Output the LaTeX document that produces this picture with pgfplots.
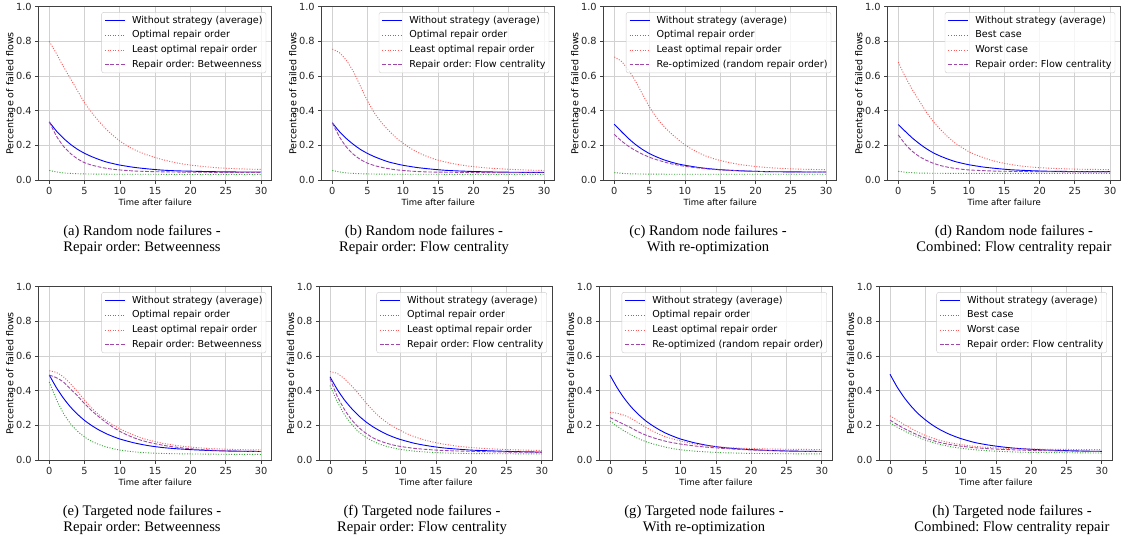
\documentclass[border=0pt]{standalone}
\usepackage{fontspec}
\setmainfont{DejaVu Sans}
\newfontfamily\capfont{Liberation Serif}
\usepackage{pgfplots}
\pgfplotsset{compat=1.18}
\frenchspacing

\definecolor{cblue}{rgb}{0,0,1}
\definecolor{cgreen}{rgb}{0.22,0.64,0.22}
\definecolor{cred}{rgb}{1,0.35,0.35}
\definecolor{cpurple}{rgb}{0.62,0.28,0.66}

\pgfplotsset{
  panel/.style={
    scale only axis, width=233pt, height=173.3pt, anchor=south west,
    xmin=-1.5, xmax=31.5, ymin=0, ymax=1,
    xtick={0,5,...,30}, ytick={0,0.2,0.4,0.6,0.8,1.0},
    yticklabel style={/pgf/number format/fixed,/pgf/number format/fixed zerofill,/pgf/number format/precision=1},
    /pgf/number format/assume math mode=true,
    tick label style={font=\fontsize{9.8}{11}\selectfont, text=black!85},
    tick align=outside, major tick length=3.5pt,
    tick style={black!75, line width=0.7pt},
    axis line style={black!75, line width=0.8pt},
    xtick pos=bottom, ytick pos=left,
    grid=major, major grid style={black!18, line width=0.8pt},
    xlabel={Time after failure}, ylabel={Percentage of failed flows},
    xlabel style={at={(axis description cs:0.5,-0.127)}, anchor=center, font=\fontsize{8.5}{10}\selectfont},
    ylabel style={at={(axis description cs:-0.12,0.5)}, anchor=center, font=\fontsize{9.5}{11}\selectfont},
    legend cell align=left,
    legend image code/.code={\draw[##1] (0pt,0pt) -- (20pt,0pt);},
    legend style={at={(axis description cs:1,1)}, anchor=north east, xshift=-5.5pt, yshift=-5.5pt,
      draw=black!20, rounded corners=2pt, fill=white, fill opacity=0.8, text opacity=1, draw opacity=1,
      inner sep=3pt, row sep=4.4pt, font=\fontsize{9.6}{11}\selectfont,
      nodes={inner sep=0.5pt, text height=7.3pt, text depth=2pt},
      /tikz/every odd column/.append style={column sep=6pt}},
  },
  sblue/.style={color=cblue, line width=0.9pt, solid, smooth, tension=0.4},
  sgreen/.style={color=cgreen, line width=0.9pt, dash pattern=on 1pt off 1.6pt, smooth, tension=0.4},
  sred/.style={color=cred, line width=0.9pt, dash pattern=on 1pt off 1.6pt, smooth, tension=0.4},
  spurple/.style={color=cpurple, line width=0.9pt, dash pattern=on 3.7pt off 1.6pt, smooth, tension=0.4},
}

\begin{document}
\begin{tikzpicture}
\useasboundingbox (0pt,0pt) rectangle (1138pt,-543pt);

% (a)
\begin{axis}[panel, at={(38.7pt,-180pt)}]
\addplot[sblue] coordinates {(0,0.335)(1,0.283)(2,0.241)(3,0.206)(4,0.177)(5,0.154)(6,0.135)(7,0.119)(8,0.105)(9,0.095)(10,0.086)(12,0.073)(14,0.064)(16,0.057)(18,0.053)(20,0.051)(22,0.049)(25,0.047)(28,0.046)(30,0.046)};
\addlegendentry{Without strategy (average)}
\addplot[sgreen] coordinates {(0,0.055)(1,0.047)(2,0.041)(3,0.038)(4,0.036)(5,0.035)(7,0.034)(10,0.033)(15,0.033)(20,0.032)(30,0.032)};
\addlegendentry{Optimal repair order}
\addplot[sred] coordinates {(0,0.80)(1,0.73)(2,0.655)(3,0.585)(4,0.515)(5,0.445)(6,0.39)(7,0.34)(8,0.295)(9,0.258)(10,0.225)(11,0.198)(12,0.176)(13,0.158)(14,0.143)(15,0.13)(16,0.118)(17,0.108)(18,0.099)(19,0.092)(20,0.086)(22,0.077)(24,0.07)(26,0.066)(28,0.063)(30,0.061)};
\addlegendentry{Least optimal repair order}
\addplot[spurple] coordinates {(0,0.335)(1,0.254)(2,0.195)(3,0.153)(4,0.122)(5,0.100)(6,0.086)(7,0.076)(8,0.068)(9,0.062)(10,0.058)(12,0.052)(14,0.049)(16,0.047)(18,0.046)(20,0.045)(25,0.044)(30,0.043)};
\addlegendentry{Repair order: Betweenness}
\end{axis}

% (b)
\begin{axis}[panel, at={(321.7pt,-180pt)}]
\addplot[sblue] coordinates {(0,0.33)(1,0.28)(2,0.239)(3,0.205)(4,0.176)(5,0.153)(6,0.134)(7,0.118)(8,0.104)(9,0.094)(10,0.085)(12,0.072)(14,0.063)(16,0.056)(18,0.052)(20,0.049)(22,0.047)(25,0.045)(28,0.044)(30,0.044)};
\addlegendentry{Without strategy (average)}
\addplot[sgreen] coordinates {(0,0.055)(1,0.047)(2,0.041)(3,0.038)(4,0.036)(5,0.035)(7,0.034)(10,0.033)(15,0.033)(20,0.032)(30,0.032)};
\addlegendentry{Optimal repair order}
\addplot[sred] coordinates {(0,0.755)(1,0.735)(2,0.69)(3,0.625)(4,0.54)(5,0.455)(6,0.385)(7,0.33)(8,0.285)(9,0.245)(10,0.213)(11,0.185)(12,0.162)(13,0.143)(14,0.127)(15,0.114)(16,0.104)(17,0.095)(18,0.088)(19,0.082)(20,0.077)(22,0.069)(24,0.064)(26,0.06)(28,0.057)(30,0.055)};
\addlegendentry{Least optimal repair order}
\addplot[spurple] coordinates {(0,0.33)(1,0.25)(2,0.19)(3,0.148)(4,0.118)(5,0.097)(6,0.083)(7,0.073)(8,0.065)(9,0.059)(10,0.055)(12,0.049)(14,0.046)(16,0.045)(18,0.044)(20,0.043)(25,0.042)(30,0.042)};
\addlegendentry{Repair order: Flow centrality}
\end{axis}

% (c)
\begin{axis}[panel, at={(603.7pt,-180pt)}]
\addplot[sblue] coordinates {(0,0.322)(1,0.28)(2,0.24)(3,0.205)(4,0.176)(5,0.152)(6,0.133)(7,0.117)(8,0.104)(9,0.093)(10,0.085)(12,0.072)(14,0.063)(16,0.057)(18,0.053)(20,0.05)(22,0.048)(25,0.047)(28,0.046)(30,0.046)};
\addlegendentry{Without strategy (average)}
\addplot[sgreen] coordinates {(0,0.043)(1,0.039)(2,0.036)(3,0.035)(5,0.034)(10,0.033)(20,0.033)(30,0.033)};
\addlegendentry{Optimal repair order}
\addplot[sred] coordinates {(0,0.71)(1,0.685)(2,0.635)(3,0.57)(4,0.495)(5,0.42)(6,0.36)(7,0.31)(8,0.27)(9,0.235)(10,0.203)(11,0.178)(12,0.156)(13,0.138)(14,0.124)(15,0.113)(16,0.103)(17,0.095)(18,0.088)(19,0.083)(20,0.078)(22,0.071)(24,0.066)(26,0.063)(28,0.061)(30,0.06)};
\addlegendentry{Least optimal repair order}
\addplot[spurple] coordinates {(0,0.263)(1,0.226)(2,0.195)(3,0.17)(4,0.149)(5,0.131)(6,0.117)(7,0.105)(8,0.094)(9,0.086)(10,0.079)(12,0.069)(14,0.061)(16,0.056)(18,0.052)(20,0.05)(22,0.048)(25,0.047)(28,0.046)(30,0.046)};
\addlegendentry{Re-optimized (random repair order)}
\end{axis}

% (d)
\begin{axis}[panel, at={(887.7pt,-180pt)}]
\addplot[sblue] coordinates {(0,0.32)(1,0.28)(2,0.242)(3,0.209)(4,0.18)(5,0.156)(6,0.137)(7,0.121)(8,0.107)(9,0.097)(10,0.088)(12,0.075)(14,0.066)(16,0.059)(18,0.055)(20,0.052)(22,0.05)(25,0.049)(28,0.048)(30,0.048)};
\addlegendentry{Without strategy (average)}
\addplot[sgreen] coordinates {(0,0.05)(1,0.045)(2,0.042)(3,0.04)(5,0.039)(10,0.038)(20,0.038)(30,0.038)};
\addlegendentry{Best case}
\addplot[sred] coordinates {(0,0.68)(1,0.595)(2,0.52)(3,0.455)(4,0.39)(5,0.335)(6,0.29)(7,0.25)(8,0.215)(9,0.188)(10,0.163)(11,0.145)(12,0.13)(13,0.116)(14,0.105)(15,0.096)(16,0.089)(17,0.083)(18,0.078)(19,0.074)(20,0.071)(22,0.067)(24,0.064)(26,0.062)(28,0.061)(30,0.06)};
\addlegendentry{Worst case}
\addplot[spurple] coordinates {(0,0.26)(1,0.206)(2,0.165)(3,0.135)(4,0.113)(5,0.096)(6,0.083)(7,0.074)(8,0.067)(9,0.062)(10,0.058)(12,0.054)(14,0.051)(16,0.05)(18,0.049)(20,0.048)(25,0.047)(30,0.047)};
\addlegendentry{Repair order: Flow centrality}
\end{axis}

% (e)
\begin{axis}[panel, at={(38.7pt,-460pt)}]
\addplot[sblue] coordinates {(0,0.49)(1,0.418)(2,0.357)(3,0.306)(4,0.264)(5,0.228)(6,0.199)(7,0.174)(8,0.153)(9,0.136)(10,0.121)(12,0.099)(14,0.083)(16,0.072)(18,0.065)(20,0.06)(22,0.056)(25,0.052)(28,0.05)(30,0.049)};
\addlegendentry{Without strategy (average)}
\addplot[sgreen] coordinates {(0,0.45)(1,0.35)(2,0.27)(3,0.21)(4,0.166)(5,0.133)(6,0.108)(7,0.09)(8,0.076)(9,0.066)(10,0.057)(12,0.047)(14,0.041)(16,0.038)(18,0.036)(20,0.035)(25,0.033)(30,0.032)};
\addlegendentry{Optimal repair order}
\addplot[sred] coordinates {(0,0.515)(1,0.505)(2,0.48)(3,0.44)(4,0.395)(5,0.345)(6,0.30)(7,0.262)(8,0.23)(9,0.203)(10,0.18)(11,0.16)(12,0.143)(13,0.128)(14,0.116)(15,0.106)(16,0.097)(17,0.09)(18,0.084)(19,0.079)(20,0.075)(22,0.068)(24,0.064)(26,0.061)(28,0.059)(30,0.058)};
\addlegendentry{Least optimal repair order}
\addplot[spurple] coordinates {(0,0.49)(1,0.475)(2,0.45)(3,0.41)(4,0.37)(5,0.325)(6,0.285)(7,0.25)(8,0.218)(9,0.19)(10,0.165)(11,0.145)(12,0.128)(13,0.114)(14,0.103)(15,0.094)(16,0.086)(17,0.079)(18,0.074)(19,0.069)(20,0.065)(22,0.059)(24,0.055)(26,0.052)(28,0.05)(30,0.049)};
\addlegendentry{Repair order: Betweenness}
\end{axis}

% (f)
\begin{axis}[panel, at={(319.4pt,-460pt)}]
\addplot[sblue] coordinates {(0,0.48)(1,0.409)(2,0.349)(3,0.3)(4,0.258)(5,0.223)(6,0.194)(7,0.17)(8,0.149)(9,0.132)(10,0.118)(12,0.096)(14,0.081)(16,0.07)(18,0.063)(20,0.057)(22,0.054)(25,0.05)(28,0.047)(30,0.046)};
\addlegendentry{Without strategy (average)}
\addplot[sgreen] coordinates {(0,0.43)(1,0.34)(2,0.265)(3,0.21)(4,0.165)(5,0.134)(6,0.11)(7,0.092)(8,0.079)(9,0.069)(10,0.061)(12,0.051)(14,0.045)(16,0.041)(18,0.039)(20,0.037)(25,0.036)(30,0.035)};
\addlegendentry{Optimal repair order}
\addplot[sred] coordinates {(0,0.51)(1,0.50)(2,0.47)(3,0.43)(4,0.385)(5,0.335)(6,0.29)(7,0.25)(8,0.218)(9,0.192)(10,0.17)(11,0.15)(12,0.134)(13,0.12)(14,0.109)(15,0.1)(16,0.092)(17,0.086)(18,0.08)(19,0.076)(20,0.072)(22,0.066)(24,0.062)(26,0.059)(28,0.057)(30,0.055)};
\addlegendentry{Least optimal repair order}
\addplot[spurple] coordinates {(0,0.47)(1,0.37)(2,0.295)(3,0.235)(4,0.19)(5,0.157)(6,0.13)(7,0.111)(8,0.097)(9,0.086)(10,0.078)(12,0.067)(14,0.06)(16,0.055)(18,0.052)(20,0.05)(22,0.048)(25,0.046)(30,0.044)};
\addlegendentry{Repair order: Flow centrality}
\end{axis}

% (g)
\begin{axis}[panel, at={(599.4pt,-460pt)}]
\addplot[sblue] coordinates {(0,0.49)(1,0.418)(2,0.357)(3,0.306)(4,0.264)(5,0.228)(6,0.199)(7,0.174)(8,0.153)(9,0.136)(10,0.121)(12,0.099)(14,0.083)(16,0.072)(18,0.065)(20,0.06)(22,0.056)(25,0.052)(28,0.05)(30,0.049)};
\addlegendentry{Without strategy (average)}
\addplot[sgreen] coordinates {(0,0.225)(1,0.195)(2,0.168)(3,0.145)(4,0.124)(5,0.107)(6,0.094)(7,0.083)(8,0.073)(9,0.065)(10,0.059)(12,0.051)(14,0.046)(16,0.042)(18,0.04)(20,0.038)(25,0.036)(30,0.035)};
\addlegendentry{Optimal repair order}
\addplot[sred] coordinates {(0,0.275)(1,0.27)(2,0.258)(3,0.24)(4,0.215)(5,0.19)(6,0.168)(7,0.148)(8,0.132)(9,0.12)(10,0.11)(11,0.1)(12,0.092)(13,0.086)(14,0.081)(15,0.077)(16,0.074)(17,0.071)(18,0.069)(19,0.067)(20,0.066)(22,0.064)(25,0.062)(28,0.061)(30,0.06)};
\addlegendentry{Least optimal repair order}
\addplot[spurple] coordinates {(0,0.245)(1,0.225)(2,0.205)(3,0.185)(4,0.163)(5,0.145)(6,0.13)(7,0.118)(8,0.107)(9,0.099)(10,0.092)(12,0.081)(14,0.073)(16,0.067)(18,0.062)(20,0.058)(22,0.055)(25,0.052)(28,0.05)(30,0.05)};
\addlegendentry{Re-optimized (random repair order)}
\end{axis}

% (h)
\begin{axis}[panel, at={(879.4pt,-460pt)}]
\addplot[sblue] coordinates {(0,0.495)(1,0.422)(2,0.361)(3,0.31)(4,0.267)(5,0.232)(6,0.202)(7,0.177)(8,0.156)(9,0.139)(10,0.124)(12,0.101)(14,0.086)(16,0.075)(18,0.067)(20,0.062)(22,0.058)(25,0.054)(28,0.051)(30,0.05)};
\addlegendentry{Without strategy (average)}
\addplot[sgreen] coordinates {(0,0.215)(1,0.19)(2,0.168)(3,0.149)(4,0.132)(5,0.115)(6,0.102)(7,0.091)(8,0.082)(9,0.074)(10,0.068)(12,0.059)(14,0.053)(16,0.049)(18,0.046)(20,0.044)(25,0.042)(30,0.04)};
\addlegendentry{Best case}
\addplot[sred] coordinates {(0,0.255)(1,0.23)(2,0.205)(3,0.182)(4,0.16)(5,0.142)(6,0.127)(7,0.114)(8,0.104)(9,0.096)(10,0.089)(12,0.079)(14,0.072)(16,0.068)(18,0.065)(20,0.063)(25,0.061)(30,0.06)};
\addlegendentry{Worst case}
\addplot[spurple] coordinates {(0,0.23)(1,0.205)(2,0.182)(3,0.162)(4,0.143)(5,0.127)(6,0.113)(7,0.102)(8,0.093)(9,0.086)(10,0.08)(12,0.071)(14,0.065)(16,0.061)(18,0.058)(20,0.055)(25,0.052)(30,0.05)};
\addlegendentry{Repair order: Flow centrality}
\end{axis}

% captions
\begin{scope}[every node/.style={font=\capfont\fontsize{14.6}{16.5}\selectfont, align=center}]
\node at (142pt,-240pt) {(a) Random node failures -\\Repair order: Betweenness};
\node at (424pt,-240pt) {(b) Random node failures -\\Repair order: Flow centrality};
\node at (708pt,-240pt) {(c) Random node failures -\\With re-optimization};
\node at (1014pt,-240pt) {(d) Random node failures -\\Combined: Flow centrality repair};
\node at (142pt,-520pt) {(e) Targeted node failures -\\Repair order: Betweenness};
\node at (422pt,-520pt) {(f) Targeted node failures -\\Repair order: Flow centrality};
\node at (704pt,-520pt) {(g) Targeted node failures -\\With re-optimization};
\node at (1012pt,-520pt) {(h) Targeted node failures -\\Combined: Flow centrality repair};
\end{scope}
\end{tikzpicture}
\end{document}
